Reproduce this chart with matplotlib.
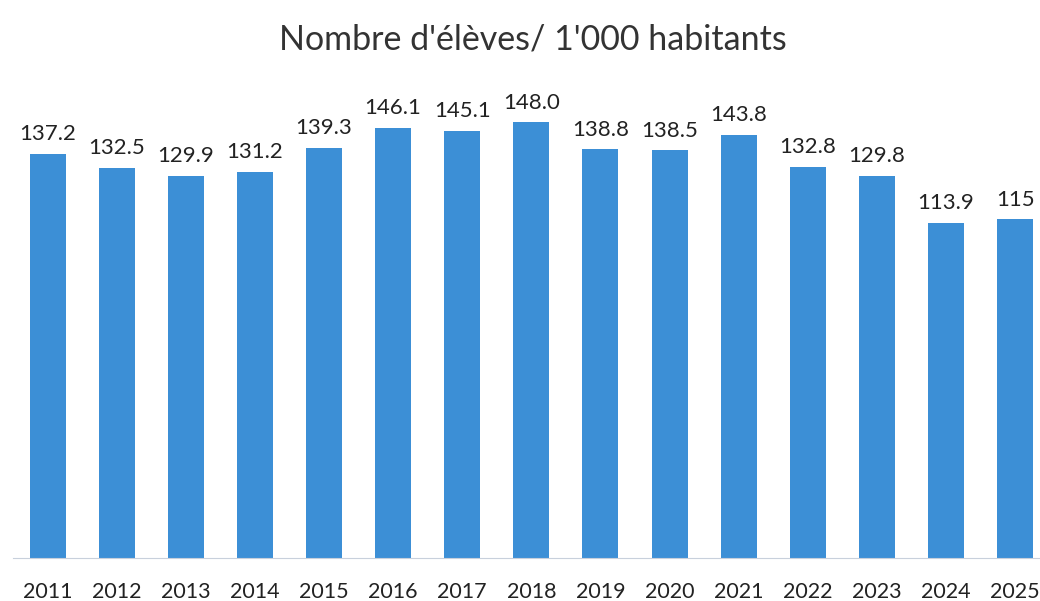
import matplotlib
matplotlib.use("Agg")
import matplotlib.pyplot as plt

years = ["2011", "2012", "2013", "2014", "2015", "2016", "2017", "2018",
         "2019", "2020", "2021", "2022", "2023", "2024", "2025"]
values = [137.2, 132.5, 129.9, 131.2, 139.3, 146.1, 145.1, 148.0,
          138.8, 138.5, 143.8, 132.8, 129.8, 113.9, 115]
labels = ["137.2", "132.5", "129.9", "131.2", "139.3", "146.1", "145.1", "148.0",
          "138.8", "138.5", "143.8", "132.8", "129.8", "113.9", "115"]

plt.rcParams['font.family'] = ['Lato', 'DejaVu Sans']

fig = plt.figure(figsize=(10.4, 6.01), dpi=100)
ax = fig.add_axes([13 / 1040, 43 / 601, 1 - 13 / 1040, 471 / 601])

x = list(range(len(years)))
ax.bar(x, values, width=0.52, color="#3c8fd6")

for xi, v, lab in zip(x, values, labels):
    ax.annotate(lab, (xi, v), xytext=(0, 7), textcoords="offset points",
                ha="center", va="bottom", fontsize=16, color="#222222")

ax.set_xlim(-0.5, 14.36)
ax.set_ylim(0, 160)
ax.set_xticks(x)
ax.set_xticklabels(years, fontsize=15.5, color="#222222")
ax.tick_params(axis="x", length=0, pad=17)
ax.set_yticks([])
for s in ["top", "right", "left"]:
    ax.spines[s].set_visible(False)
ax.spines["bottom"].set_color("#c8d0dc")

fig.text(0.512, 0.935, "Nombre d'élèves/ 1'000 habitants", ha="center", va="center",
         fontsize=24.5, color="#333333")

fig.savefig("out.png", dpi=100)
